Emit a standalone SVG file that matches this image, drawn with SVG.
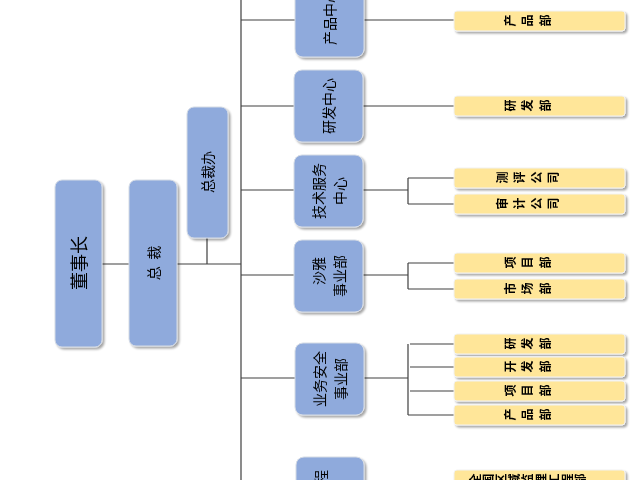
<svg xmlns="http://www.w3.org/2000/svg" width="640" height="480" viewBox="0 0 640 480">
<style>
.b{fill:#8FAADC;stroke:#D6DCE5;stroke-width:1}
.y{fill:#FFE699;stroke:#F2F2F2;stroke-width:1}
.t{font-family:"Noto Sans CJK SC","Noto Sans",sans-serif;font-size:14px;fill:#000;text-anchor:middle;dominant-baseline:central}
.yt{font-family:"Noto Sans CJK SC","Noto Sans",sans-serif;font-size:12px;fill:#000;text-anchor:middle;dominant-baseline:central;letter-spacing:5px;font-weight:bold}
.l{stroke:#404040;stroke-width:1.2;fill:none}
</style>
<defs><filter id="s" x="-20%" y="-20%" width="150%" height="150%"><feDropShadow dx="2" dy="2" stdDeviation="1.2" flood-color="#000" flood-opacity="0.35"/></filter></defs>
<g id="connectors" class="l">
<path d="M102 264H129M177 264H241M207 238V264M241 0V480"/>
<path d="M241 20H295M364 20H454M241 106H294M363 106H454M241 190H294M363 190H408M408 178V204M408 178H454M408 204H454"/>
<path d="M241 275H294M363 275H408M408 263V289M408 263H454M408 289H454"/>
<path d="M241 378H295M364 378H408M408 344V415M410 344H454M410 367H454M410 391H454M408 415H454"/>
<path d="M400 481H454"/>
</g>
<g filter="url(#s)">
<g id="n-dsz"><rect class="b" x="55" y="180" width="47" height="167" rx="7"/><text class="t" style="font-size:18px" transform="translate(78,263) rotate(-90)">董事长</text></g>
<g id="n-zc"><rect class="b" x="129" y="180" width="48" height="166" rx="7"/><text class="t" transform="translate(153,263) rotate(-90)" xml:space="preserve">总  裁</text></g>
<g id="n-zcb"><rect class="b" x="187" y="107" width="41" height="131" rx="7"/><text class="t" transform="translate(207,172) rotate(-90)">总裁办</text></g>
<g id="n-cpzx"><rect class="b" x="295" y="-15" width="69" height="72" rx="8"/><text class="t" transform="translate(329,17) rotate(-90)">产品中心</text></g>
<g id="n-yfzx"><rect class="b" x="294" y="70" width="69" height="72" rx="8"/><text class="t" transform="translate(328,106) rotate(-90)">研发中心</text></g>
<g id="n-jsfw"><rect class="b" x="294" y="155" width="69" height="72" rx="8"/><text class="t" transform="translate(328,191) rotate(-90)"><tspan x="0" dy="-10">技术服务</tspan><tspan x="0" dy="21">中心</tspan></text></g>
<g id="n-sy"><rect class="b" x="294" y="240" width="69" height="72" rx="8"/><text class="t" transform="translate(328,276) rotate(-90)"><tspan x="5" dy="-10">沙雅</tspan><tspan x="0" dy="21">事业部</tspan></text></g>
<g id="n-ywaq"><rect class="b" x="295" y="343" width="69" height="72" rx="8"/><text class="t" transform="translate(329,379) rotate(-90)"><tspan x="0" dy="-10">业务安全</tspan><tspan x="0" dy="21">事业部</tspan></text></g>
<g id="n-gc"><rect class="b" x="296" y="457" width="68" height="72" rx="8"/><text class="t" transform="translate(330,484) rotate(-90)"><tspan x="0" dy="-10">工程</tspan></text></g>
<g id="y1"><rect class="y" x="454" y="11" width="171" height="20" rx="3"/><text class="yt" x="541" y="21" rotate="-90">产品部</text></g>
<g id="y2"><rect class="y" x="454" y="96" width="171" height="20" rx="3"/><text class="yt" x="541" y="106" rotate="-90">研发部</text></g>
<g id="y3"><rect class="y" x="454" y="168" width="171" height="20" rx="3"/><text class="yt" x="541" y="178" rotate="-90">测评公司</text></g>
<g id="y4"><rect class="y" x="454" y="194" width="171" height="20" rx="3"/><text class="yt" x="541" y="204" rotate="-90">审计公司</text></g>
<g id="y5"><rect class="y" x="454" y="253" width="171" height="20" rx="3"/><text class="yt" x="541" y="263" rotate="-90">项目部</text></g>
<g id="y6"><rect class="y" x="454" y="279" width="171" height="20" rx="3"/><text class="yt" x="541" y="289" rotate="-90">市场部</text></g>
<g id="y7"><rect class="y" x="454" y="334" width="171" height="20" rx="3"/><text class="yt" x="541" y="344" rotate="-90">研发部</text></g>
<g id="y8"><rect class="y" x="454" y="357" width="171" height="20" rx="3"/><text class="yt" x="541" y="367" rotate="-90">开发部</text></g>
<g id="y9"><rect class="y" x="454" y="381" width="171" height="20" rx="3"/><text class="yt" x="541" y="391" rotate="-90">项目部</text></g>
<g id="y10"><rect class="y" x="454" y="405" width="171" height="20" rx="3"/><text class="yt" x="541" y="415" rotate="-90">产品部</text></g>
<g id="y11"><rect class="y" x="454" y="470" width="171" height="20" rx="3"/><text class="yt" x="539" y="480" rotate="-90" style="letter-spacing:1px">全国区域监理工程部</text></g>
</g>
</svg>
